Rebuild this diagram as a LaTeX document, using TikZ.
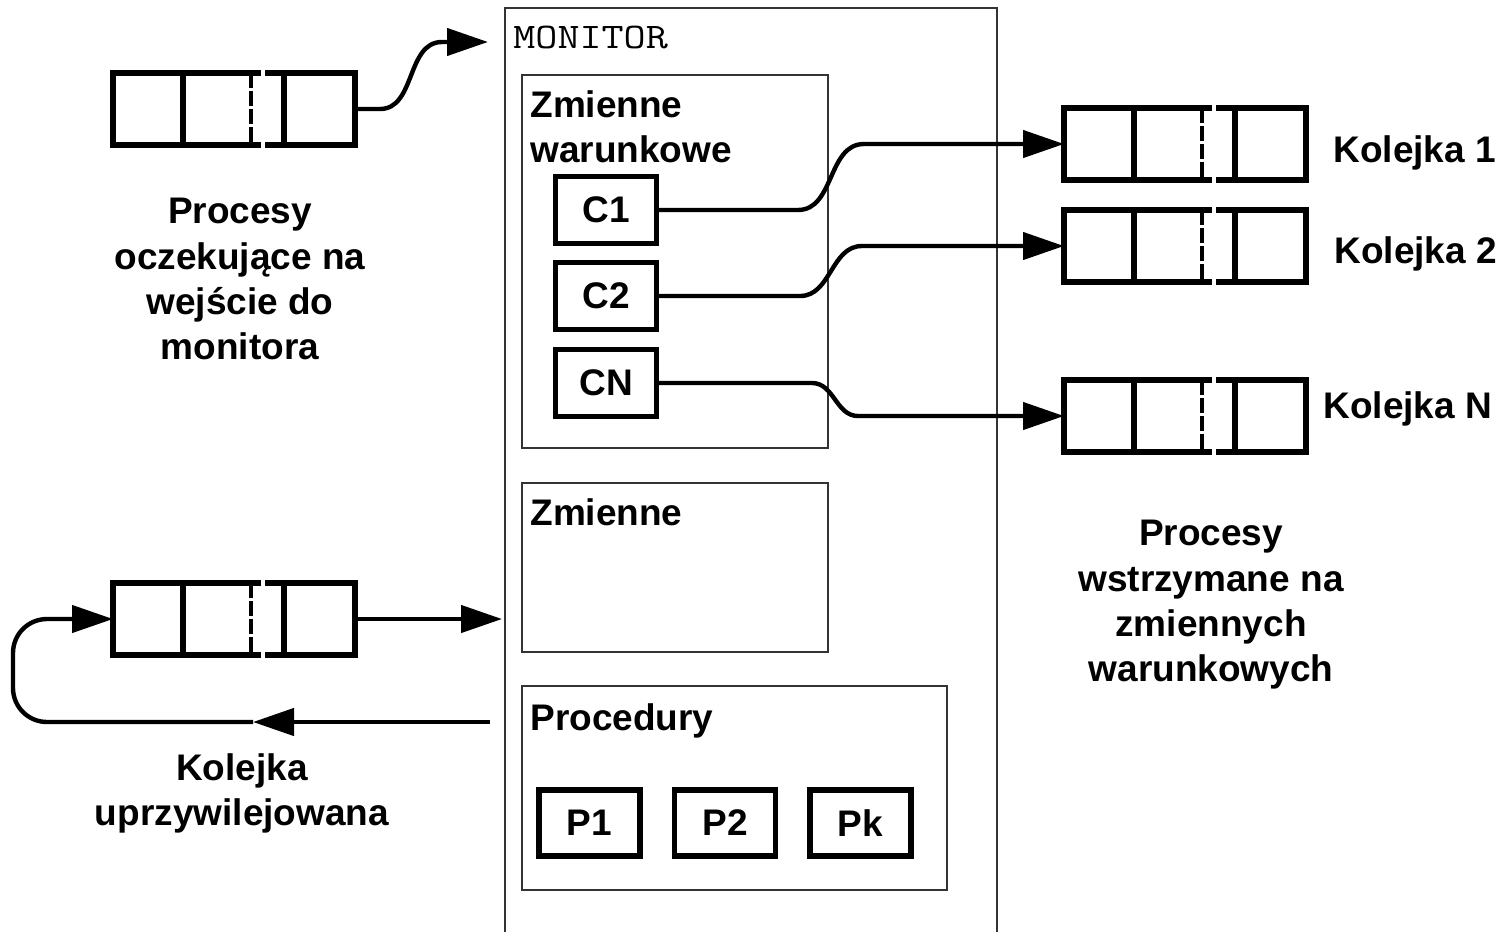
\documentclass[tikz,border=0pt]{standalone}
\usepackage{fontspec}
\usepackage{graphicx}
\setmainfont{Liberation Sans}
\usetikzlibrary{arrows.meta}
\newcommand\lblfont{\fontsize{18.5pt}{22.6pt}\selectfont\bfseries}
\newcommand\monlabelfont{\ttfamily\fontsize{18pt}{22pt}\selectfont}
\begin{document}
\begin{tikzpicture}[x=0.5pt,y=-0.5pt,
  qline/.style={line width=2.6pt},
  dline/.style={line width=2pt, dash pattern=on 7.5pt off 1.5pt},
  qbox/.style={minimum width=121pt, minimum height=36pt, inner sep=0pt, outer sep=0pt, anchor=north west},
  thinbox/.style={draw=black!80, line width=0.8pt, inner sep=0pt, outer sep=0pt, anchor=north west},
  cbox/.style={draw, line width=2.7pt, minimum width=50.5pt, minimum height=33.5pt, inner sep=0pt, font=\lblfont},
  conn/.style={line width=2.2pt, -{Triangle[length=20.5pt,width=13.5pt]}},
  lbl/.style={inner sep=0pt, font=\lblfont},
  queue/.pic={
    \node[qbox] (-box) at (0,0) {};
    \draw[qline] (148,0) -- (0,0) -- (0,72) -- (148,72);
    \draw[qline] (152,0) -- (242,0) -- (242,72) -- (152,72);
    \draw[qline] (70,0) -- (70,72);
    \draw[qline] (171,0) -- (171,72);
    \draw[dline] (138,0) -- (138,72);
  }
]
\path[use as bounding box] (0,0) rectangle (1502,932);

% monitor outline (open at the bottom)
\draw[black!80, line width=0.8pt] (505,932) -- (505,8) -- (997,8) -- (997,932);
\node[inner sep=0pt, font=\monlabelfont, anchor=base west] (tmon) at (513,48) {\scalebox{1.19}[1]{MONITOR}};

% inner boxes
\node[thinbox, minimum width=153pt, minimum height=186.5pt] (zw) at (522,75) {};
\node[thinbox, minimum width=153pt, minimum height=84.5pt] (zm) at (522,483) {};
\node[thinbox, minimum width=212.5pt, minimum height=102pt] (proc) at (522,686) {};

\node[lbl, align=left, anchor=north west] (tzw) at (530,90) {Zmienne\\warunkowe};
\node[lbl, anchor=base west] (tzm) at (530,525) {Zmienne};
\node[lbl, anchor=base west] (tproc) at (530,730) {Procedury};

% condition variables
\node[cbox] (C1) at (606,210) {C1};
\node[cbox] (C2) at (606,296) {C2};
\node[cbox] (CN) at (606,383) {CN};

% procedures
\node[cbox, minimum height=33pt] (P1) at (589.5,823) {P1};
\node[cbox, minimum height=33pt] (P2) at (725,823) {P2};
\node[cbox, minimum height=33pt] (Pk) at (860.5,823) {Pk};

% queues
\pic (q0) at (113,73) {queue};
\pic (q1) at (1064,108) {queue};
\pic (q2) at (1064,210) {queue};
\pic (qN) at (1064,380) {queue};
\pic (q3) at (113,583) {queue};

% labels
\node[lbl, anchor=base west] (k1) at (1333,162) {Kolejka 1};
\node[lbl, anchor=base west] (k2) at (1334,263) {Kolejka 2};
\node[lbl, anchor=base west] (kN) at (1323,418) {Kolejka N};
\node[lbl, align=center, anchor=north] (pwait) at (240,198) {Procesy\\oczekujące na\\wejście do\\monitora};
\node[lbl, align=center, anchor=north] (pstop) at (1211,520) {Procesy\\wstrzymane na\\zmiennych\\warunkowych};
\node[lbl, align=center, anchor=north] (kpriv) at (242,753) {Kolejka\\uprzywilejowana};

% connectors
\coordinate (monA) at (488,42);
\draw[conn] (q0-box.east) -- (380,109) to[out=0,in=180] (442,42) -- (monA);
\draw[conn] (C1.east) -- (798,210) to[out=0,in=180] (864,144) -- (q1-box.west);
\draw[conn] (C2.east) -- (800,296) to[out=0,in=180] (862,246) -- (q2-box.west);
\draw[conn] (CN.east) -- (812,383) to[out=0,in=180] (858,416) -- (qN-box.west);
\coordinate (monB) at (502,619);
\draw[conn] (q3-box.east) -- (monB);
\coordinate (retS) at (490,722);
\coordinate (retM) at (253,722);
\draw[conn] (retS) -- (retM);
\draw[conn, rounded corners=17pt] (retM) -- (13,722) -- (13,619) -- (q3-box.west);
\end{tikzpicture}
\end{document}
